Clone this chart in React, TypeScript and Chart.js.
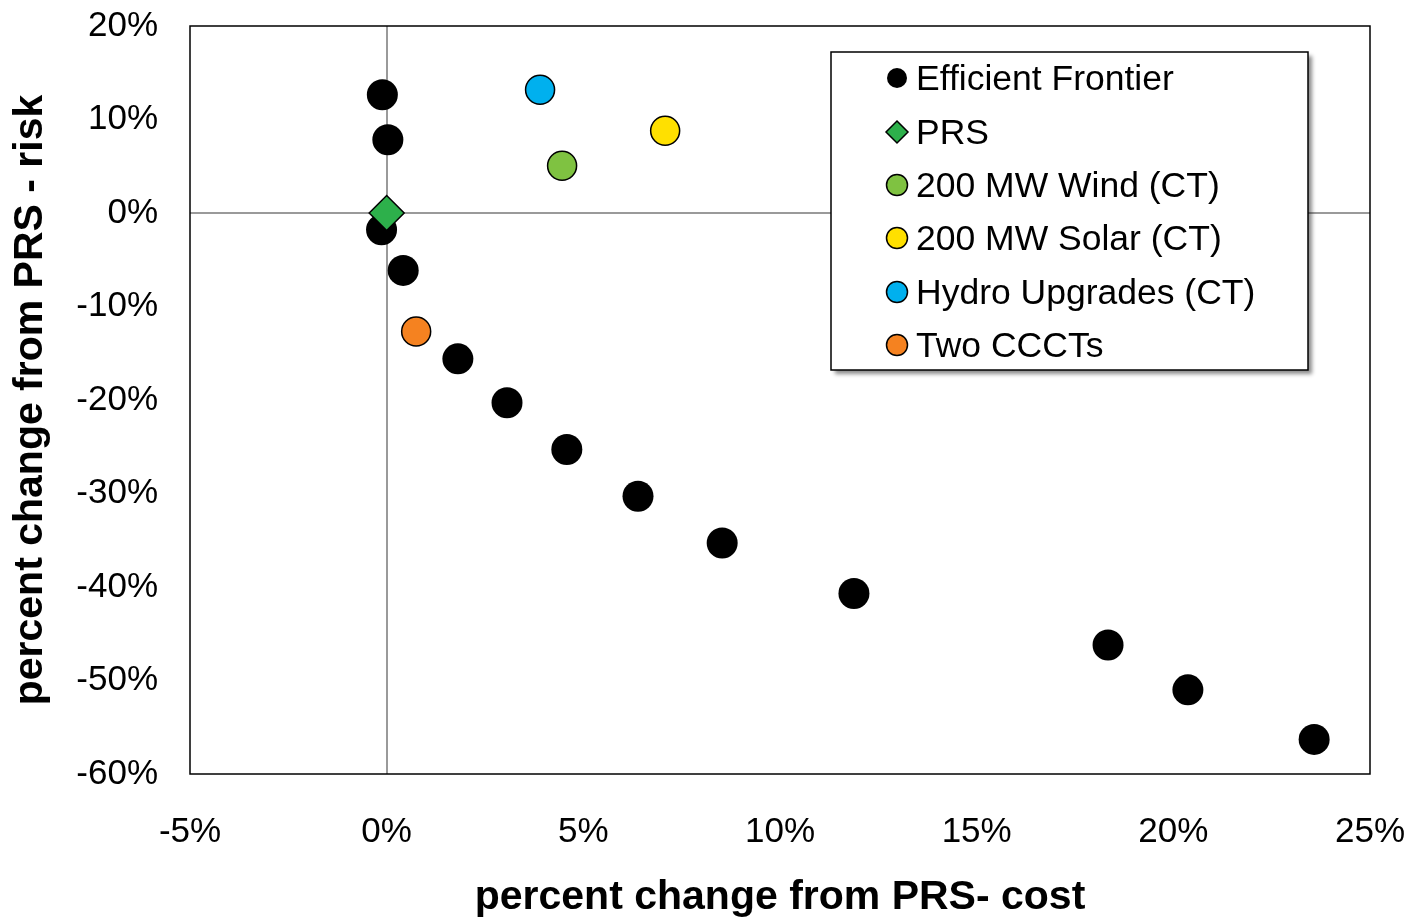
import React, { useEffect, useRef } from "react";
import { Chart, registerables } from "chart.js";

Chart.register(...registerables);

const frontierX = [-0.11, 0.03, -0.13, 0.42, 1.81, 3.06, 4.58, 6.39, 8.53, 11.88, 18.34, 20.37, 23.58];
const frontierY = [12.65, 7.84, -1.79, -6.14, -15.6, -20.3, -25.3, -30.3, -35.3, -40.7, -46.2, -51.0, -56.3];

const prsPoint = { x: 0, y: 0 };
const windPoint = { x: 4.46, y: 5.05 };
const solarPoint = { x: 7.08, y: 8.79 };
const hydroPoint = { x: 3.9, y: 13.19 };
const ccctPoint = { x: 0.75, y: -12.67 };

const seriesNames = [
  "Efficient Frontier",
  "PRS",
  "200 MW Wind (CT)",
  "200 MW Solar (CT)",
  "Hydro Upgrades (CT)",
  "Two CCCTs",
];
const seriesColors = ["#000000", "#2db04b", "#7fc241", "#ffe000", "#00b0ee", "#f58220"];

const xTitle = "percent change from PRS- cost";
const yTitle = "percent change from PRS - risk";

const FONT = "Arial, 'Liberation Sans', sans-serif";

const legendPlugin = {
  id: "customLegend",
  afterDraw(chart: any) {
    const ctx = chart.ctx;
    const x0 = 831, y0 = 52, w = 477, h = 318;
    ctx.save();
    ctx.shadowColor = "rgba(0,0,0,0.45)";
    ctx.shadowBlur = 4;
    ctx.shadowOffsetX = 4;
    ctx.shadowOffsetY = 4;
    ctx.fillStyle = "#fff";
    ctx.fillRect(x0, y0, w, h);
    ctx.restore();
    ctx.save();
    ctx.strokeStyle = "#000";
    ctx.lineWidth = 1.5;
    ctx.strokeRect(x0, y0, w, h);
    const rowY = [78, 132, 185, 238, 292, 345];
    ctx.font = `35.5px ${FONT}`;
    ctx.textBaseline = "middle";
    seriesNames.forEach((name, i) => {
      const cx = 897, cy = rowY[i];
      ctx.fillStyle = seriesColors[i];
      ctx.strokeStyle = "#000";
      ctx.lineWidth = 1.5;
      ctx.beginPath();
      if (i === 1) {
        const r = 11;
        ctx.moveTo(cx, cy - r);
        ctx.lineTo(cx + r, cy);
        ctx.lineTo(cx, cy + r);
        ctx.lineTo(cx - r, cy);
        ctx.closePath();
      } else {
        ctx.arc(cx, cy, i === 0 ? 10 : 10.5, 0, Math.PI * 2);
      }
      ctx.fill();
      if (i !== 0) ctx.stroke();
      ctx.fillStyle = "#000";
      ctx.fillText(name, 916, cy + 2);
    });
    ctx.restore();
  },
};

const borderPlugin = {
  id: "areaBorder",
  afterDatasetsDraw(chart: any) {
    const { ctx, chartArea } = chart;
    ctx.save();
    ctx.strokeStyle = "#000";
    ctx.lineWidth = 1.5;
    ctx.strokeRect(chartArea.left, chartArea.top, chartArea.right - chartArea.left, chartArea.bottom - chartArea.top);
    ctx.restore();
  },
};

export default function App() {
  const ref = useRef<HTMLCanvasElement>(null);
  useEffect(() => {
    document.body.style.margin = "0";
    const canvas = ref.current!;
    const mk = (p: { x: number; y: number }) => [p];
    const chart = new Chart(canvas, {
      type: "scatter",
      data: {
        datasets: [
          {
            label: seriesNames[0],
            data: frontierX.map((x, i) => ({ x, y: frontierY[i] })),
            backgroundColor: "#000",
            borderColor: "#000",
            borderWidth: 0,
            pointRadius: 15.5,
            order: 2,
          },
          {
            label: seriesNames[1],
            data: mk(prsPoint),
            backgroundColor: seriesColors[1],
            borderColor: "#000",
            borderWidth: 1.5,
            pointStyle: "rectRot",
            pointRadius: 17.5,
            order: 0,
          },
          {
            label: seriesNames[2],
            data: mk(windPoint),
            backgroundColor: seriesColors[2],
            borderColor: "#000",
            borderWidth: 1.5,
            pointRadius: 14.5,
            order: 1,
          },
          {
            label: seriesNames[3],
            data: mk(solarPoint),
            backgroundColor: seriesColors[3],
            borderColor: "#000",
            borderWidth: 1.5,
            pointRadius: 14.5,
            order: 1,
          },
          {
            label: seriesNames[4],
            data: mk(hydroPoint),
            backgroundColor: seriesColors[4],
            borderColor: "#000",
            borderWidth: 1.5,
            pointRadius: 14.5,
            order: 1,
          },
          {
            label: seriesNames[5],
            data: mk(ccctPoint),
            backgroundColor: seriesColors[5],
            borderColor: "#000",
            borderWidth: 1.5,
            pointRadius: 14.5,
            order: 1,
          },
        ] as any,
      },
      options: {
        animation: false,
        responsive: false,
        maintainAspectRatio: false,
        layout: { padding: { top: 26, right: 40, left: 0, bottom: 0 } },
        plugins: {
          legend: { display: false },
          tooltip: { enabled: false },
        },
        scales: {
          x: {
            type: "linear",
            min: -5,
            max: 25,
            ticks: {
              stepSize: 5,
              padding: 37,
              color: "#000",
              font: { family: FONT, size: 35 },
              callback: (v: any) => `${v}%`,
            },
            grid: {
              drawTicks: false,
              color: (c: any) => (c.tick && c.tick.value === 0 ? "#9a9a9a" : "rgba(0,0,0,0)"),
              lineWidth: 2,
            },
            border: { display: false },
            title: {
              display: true,
              text: xTitle,
              color: "#000",
              font: { family: FONT, size: 41, weight: "bold" },
              padding: { top: 0, bottom: -3 },
            },
            afterFit: (s: any) => {
              s.height = 145;
              s.paddingLeft = 0;
              s.paddingRight = 0;
            },
          },
          y: {
            type: "linear",
            min: -60,
            max: 20,
            ticks: {
              stepSize: 10,
              padding: 32,
              color: "#000",
              font: { family: FONT, size: 35 },
              callback: (v: any) => `${v}%`,
            },
            grid: {
              drawTicks: false,
              color: (c: any) => (c.tick && c.tick.value === 0 ? "#9a9a9a" : "rgba(0,0,0,0)"),
              lineWidth: 2,
            },
            border: { display: false },
            title: {
              display: true,
              text: yTitle,
              color: "#000",
              font: { family: FONT, size: 41, weight: "bold" },
              padding: { top: 6, bottom: 0 },
            },
            afterFit: (s: any) => {
              s.width = 190;
              s.paddingTop = 0;
              s.paddingBottom = 0;
            },
          },
        },
      } as any,
      plugins: [borderPlugin, legendPlugin],
    });
    return () => chart.destroy();
  }, []);
  return (
    <div style={{ width: 1410, height: 919 }}>
      <canvas ref={ref} width={1410} height={919} style={{ display: "block" }} />
    </div>
  );
}
